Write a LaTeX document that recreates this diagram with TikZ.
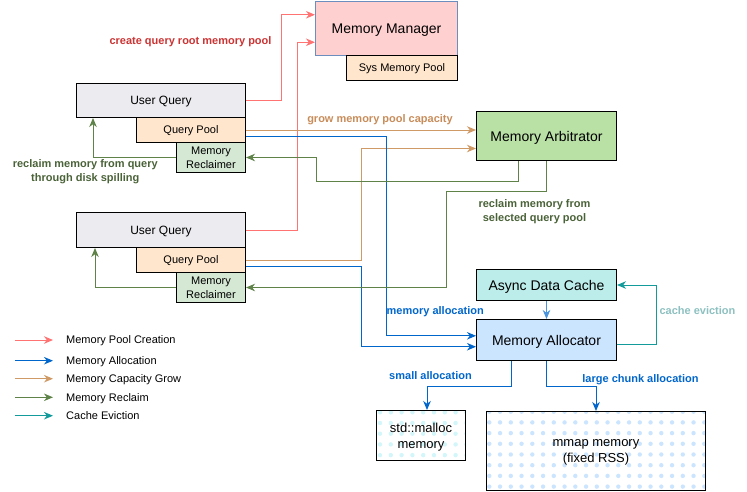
\documentclass[tikz,border=0pt]{standalone}
\usepackage{fontspec}
\setmainfont{Liberation Sans}
\usetikzlibrary{arrows.meta,calc,backgrounds}
\definecolor{cpool}{HTML}{FF7373}
\definecolor{cpooltxt}{HTML}{CC3333}
\definecolor{cgrow}{HTML}{D09A66}
\definecolor{cgrowtxt}{HTML}{C88C5A}
\definecolor{calloc}{HTML}{0066CC}
\definecolor{calloclt}{HTML}{4A94DE}
\definecolor{crecl}{HTML}{5E8248}
\definecolor{crecltxt}{HTML}{4A6238}
\definecolor{cevict}{HTML}{139A9A}
\definecolor{cevicttxt}{HTML}{8DC0C0}
\definecolor{fuq}{HTML}{EBEBF0}
\definecolor{fqp}{HTML}{FFE6CC}
\definecolor{fmr}{HTML}{D5E8D4}
\definecolor{fmm}{HTML}{FFD0D0}
\definecolor{bmm}{HTML}{6C8EBF}
\definecolor{farb}{HTML}{B9E0A5}
\definecolor{fadc}{HTML}{BCEDEA}
\definecolor{falloc}{HTML}{CCE5FF}
\definecolor{dotcyan}{HTML}{D2F6FA}
\definecolor{dotblue}{HTML}{CCE5FF}
\tikzset{
  box/.style={draw=black, line width=1pt, inner sep=0pt, align=center, anchor=north west, text depth=0pt},
  fs11/.style={font=\fontsize{11}{13.5}\selectfont},
  fs12/.style={font=\fontsize{12}{14}\selectfont},
  fs13/.style={font=\fontsize{13}{16}\selectfont},
  fs14/.style={font=\fontsize{14}{16}\selectfont},
  lbl/.style={font=\bfseries\fontsize{11}{13.4}\selectfont, align=center, inner sep=0pt, text depth=0pt},
  tip/.style={-{Stealth[length=9pt,width=7.5pt,inset=2.8pt]}},
  epool/.style={tip, draw=cpool, line width=1pt},
  egrow/.style={tip, draw=cgrow, line width=1pt},
  ealloc/.style={tip, draw=calloc, line width=1pt},
  eallocl/.style={tip, draw=calloclt, line width=1pt},
  erecl/.style={tip, draw=crecl, line width=1pt},
  eevict/.style={tip, draw=cevict, line width=1pt},
  legtxt/.style={fs11, anchor=west, inner sep=0pt, text depth=0pt},
}
\begin{document}
\begin{tikzpicture}[x=1pt,y=-1pt]
\useasboundingbox (0,0) rectangle (747,491);

% boxes
\node[box, fill=fmm, draw=bmm, fs14, minimum width=142pt, minimum height=54pt] (mm) at (315,1) {Memory Manager};
\node[box, fill=fqp, fs11, minimum width=111pt, minimum height=25pt] (smp) at (346,55) {Sys Memory Pool};

\node[box, fill=fuq, fs12, minimum width=169pt, minimum height=34pt] (uq1) at (76,83) {User Query};
\node[box, fill=fqp, fs11, minimum width=109pt, minimum height=25pt] (qp1) at (136,117) {Query Pool};
\node[box, fill=fmr, fs11, minimum width=69pt, minimum height=30pt] (mr1) at (176,142) {Memory\\Reclaimer};

\node[box, fill=fuq, fs12, minimum width=169pt, minimum height=35pt] (uq2) at (76,212) {User Query};
\node[box, fill=fqp, fs11, minimum width=109pt, minimum height=25pt] (qp2) at (136,247) {Query Pool};
\node[box, fill=fmr, fs11, minimum width=69pt, minimum height=30pt] (mr2) at (176,272) {Memory\\Reclaimer};

\node[box, fill=farb, fs14, minimum width=140pt, minimum height=49pt] (arb) at (476,111) {Memory Arbitrator};
\node[box, fill=fadc, fs14, minimum width=140pt, minimum height=31pt] (adc) at (476,269) {Async Data Cache};
\node[box, fill=falloc, fs14, minimum width=140pt, minimum height=41pt] (alloc) at (476,319) {Memory Allocator};

\node[box, fs13, minimum width=89pt, minimum height=50pt] (malloc) at (376,410) {std::malloc\\memory};
\node[box, fs13, minimum width=219pt, minimum height=79pt] (mmap) at (486,411) {mmap memory\\(fixed RSS)};

\begin{pgfonlayer}{background}
  \fill[white] (malloc.north west) rectangle (malloc.south east);
  \begin{scope}
    \clip (malloc.north west) rectangle (malloc.south east);
    \foreach \i in {0,...,8} \foreach \j in {0,...,4}
      \fill[dotcyan] (380+\i*10.8, 412.3+\j*10.7) circle (2.2pt);
  \end{scope}
  \fill[white] (mmap.north west) rectangle (mmap.south east);
  \begin{scope}
    \clip (mmap.north west) rectangle (mmap.south east);
    \foreach \i in {0,...,20} \foreach \j in {0,...,7}
      \fill[dotblue] (489.3+\i*10.75, 411.7+\j*10.7) circle (2.2pt);
  \end{scope}
\end{pgfonlayer}

% anchor points
\coordinate (mmw1) at ($(mm.north west)!0.25!(mm.south west)$);
\coordinate (mmw2) at ($(mm.north west)!0.75!(mm.south west)$);
\coordinate (arbw2) at ($(arb.north west)!0.75!(arb.south west)$);
\coordinate (qp1e) at ($(qp1.north east)!0.75!(qp1.south east)$);
\coordinate (qp2e) at ($(qp2.north east)!0.75!(qp2.south east)$);
\coordinate (allocw1) at ($(alloc.north west)!0.4!(alloc.south west)$);
\coordinate (allocw2) at ($(alloc.north west)!0.66!(alloc.south west)$);
\coordinate (arbs1) at ($(arb.south west)!0.3!(arb.south east)$);
\coordinate (alloce) at ($(alloc.north east)!0.6!(alloc.south east)$);
\coordinate (allocs1) at ($(alloc.south west)!0.25!(alloc.south east)$);
\coordinate (mallocn) at ($(malloc.north west)+(51,0)$);

% memory pool creation
\draw[epool] (uq1.east) -- ++(35,0) |- (mmw1);
\draw[epool] (uq2.east) -- ++(51,0) |- (mmw2);

% capacity grow
\draw[egrow] (qp1.east) -- (qp1.east -| arb.west);
\draw[egrow] (qp2.east) -- ++(115.5,0) |- (arbw2);

% memory allocation
\draw[ealloc] (qp1e) -- ++(140,0) |- (allocw1);
\draw[ealloc] (qp2e) -- ++(115.5,0) |- (allocw2);

% reclaim
\draw[erecl] (arbs1) -- ++(0,20) -| ($(mr1.east)+(70,0)$) -- (mr1.east);
\draw[erecl] (arb.south) -- ++(0,30) -| ($(mr2.east)+(200,0)$) -- (mr2.east);
\draw[erecl] (mr1.west) -| ($(uq1.south west)+(17,0)$);
\draw[erecl] (mr2.west) -| ($(uq2.south west)+(19,0)$);

% cache
\draw[eallocl] (adc.south) -- (alloc.north);
\draw[eevict] (alloce) -- ++(39,0) |- (adc.east);

% allocation targets
\draw[ealloc] (allocs1) -- ++(0,25) -| (mallocn);
\draw[ealloc] (alloc.south) -- ++(0,25) -| (mmap.north);

% labels
\node[lbl, text=cpooltxt] (lpool) at (190.5,40.7) {create query root memory pool};
\node[lbl, text=cgrowtxt] (lgrow) at (380,118.3) {grow memory pool capacity};
\node[lbl, text=crecltxt] (lrec1) at (85.3,170.7) {reclaim memory from query\\through disk spilling};
\node[lbl, text=crecltxt] (lrec2) at (534.5,210.5) {reclaim memory from\\selected query pool};
\node[lbl, text=calloc] (lalloc) at (435.3,310.3) {memory allocation};
\node[lbl, text=cevicttxt] (levict) at (697.5,310.3) {cache eviction};
\node[lbl, text=calloc] (lsmall) at (430.5,375.3) {small allocation};
\node[lbl, text=calloc] (llarge) at (640.5,378.3) {large chunk allocation};

% legend
\coordinate (la1) at (15,340);   \coordinate (lb1) at (53,340);
\coordinate (la2) at (15,360.7); \coordinate (lb2) at (53,360.7);
\coordinate (la3) at (15,378.7); \coordinate (lb3) at (53,378.7);
\coordinate (la4) at (15,397.3); \coordinate (lb4) at (53,397.3);
\coordinate (la5) at (15,415.7); \coordinate (lb5) at (53,415.7);
\draw[epool] (la1) -- (lb1);
\draw[ealloc] (la2) -- (lb2);
\draw[egrow] (la3) -- (lb3);
\draw[erecl] (la4) -- (lb4);
\draw[eevict] (la5) -- (lb5);
\node[legtxt] (t1) at (66,340) {Memory Pool Creation};
\node[legtxt] (t2) at (66,360.7) {Memory Allocation};
\node[legtxt] (t3) at (66,378.7) {Memory Capacity Grow};
\node[legtxt] (t4) at (66,397.3) {Memory Reclaim};
\node[legtxt] (t5) at (66,415.7) {Cache Eviction};
\end{tikzpicture}
\end{document}
